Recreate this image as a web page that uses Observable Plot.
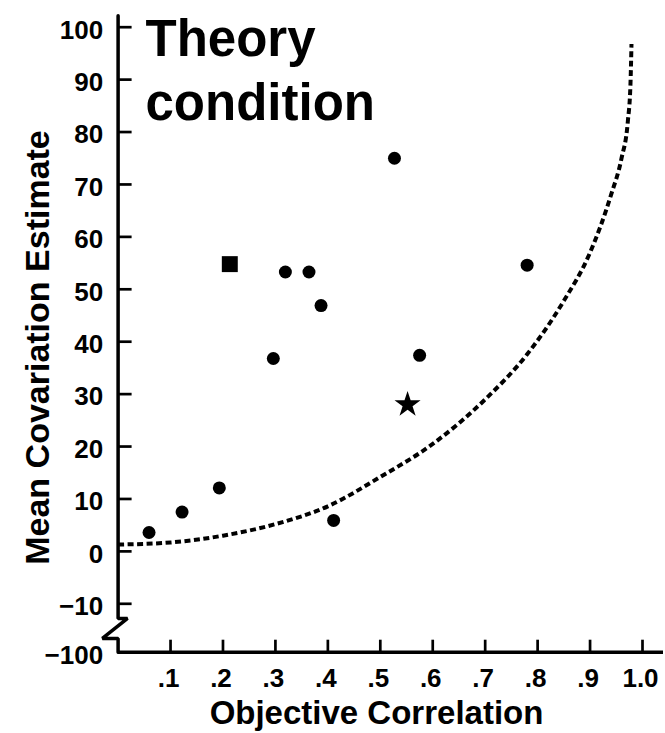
<!DOCTYPE html>
<html><head><meta charset="utf-8">
<script src="https://cdn.jsdelivr.net/npm/d3@7"></script>
<script src="https://cdn.jsdelivr.net/npm/@observablehq/plot@0.6"></script>
<style>body{margin:0;background:#fff} svg{display:block}</style>
</head><body><div id="chart"></div>
<script>
const titleLines = ["Theory", "condition"];
const xLabel = "Objective Correlation";
const yLabel = "Mean Covariation Estimate";
const xTicks = [0.1, 0.2, 0.3, 0.4, 0.5, 0.6, 0.7, 0.8, 0.9, 1.0];
const xTickLabels = [".1", ".2", ".3", ".4", ".5", ".6", ".7", ".8", ".9", "1.0"];
const yTicks = [-10, 0, 10, 20, 30, 40, 50, 60, 70, 80, 90, 100];
const yLabelValues = [-100, -10, 0, 10, 20, 30, 40, 50, 60, 70, 80, 90, 100];
const yTickLabels = ["\u2212100", "\u221210", "0", "10", "20", "30", "40", "50", "60", "70", "80", "90", "100"];
const circleX = [0.059, 0.122, 0.193, 0.296, 0.319, 0.364, 0.387, 0.411, 0.527, 0.575, 0.780];
const circleY = [3.6, 7.5, 12.1, 36.8, 53.3, 53.3, 46.9, 5.9, 75.0, 37.4, 54.6];
const squareX = [0.213];
const squareY = [54.8];
const starX = [0.552];
const starY = [28.0];
const curveX = [0.000, 0.100, 0.200, 0.300, 0.400, 0.500, 0.600, 0.700, 0.780, 0.850, 0.900, 0.940, 0.960, 0.972, 0.977, 0.979];
const curveY = [1.3, 1.7, 3.0, 5.2, 8.6, 14.2, 20.5, 29.0, 37.6, 47.8, 57.0, 68.0, 75.0, 82.0, 89.0, 96.8];
// y axis line with the scale-break zigzag
const axisX = [0, 0, 0.018, -0.030, 0, 0];
const axisY = [102.2, -37.3, -37.3, -74.5, -74.5, -100];

const xOpts = {domain: [0, 1], range: [117.6, 642], axis: null};
const yOpts = {type: "linear", domain: [-100, -10, 100], range: [651.7, 603.3, 26.7], axis: null};
const xs = Plot.scale({x: xOpts});
const ys = Plot.scale({y: yOpts});
const yTickEnd = xs.invert(xs.apply(0) + 14);
const xTickEnd = ys.invert(ys.apply(-100) - 12);
const axisXEnd = xs.invert(663);

const circles = circleX.map((x, i) => ({x, y: circleY[i]}));
const squares = squareX.map((x, i) => ({x, y: squareY[i]}));
const stars = starX.map((x, i) => ({x, y: starY[i]}));
const curve = curveX.map((x, i) => ({x, y: curveY[i]}));
const axisPath = axisX.map((x, i) => ({x, y: axisY[i]}));
const yLab = yLabelValues.map((v, i) => ({v, t: yTickLabels[i]}));
const xLab = xTicks.map((v, i) => ({v, t: xTickLabels[i]}));

const font = "'Liberation Sans', Arial, Helvetica, sans-serif";

const chart = Plot.plot({
  width: 665, height: 733,
  marginTop: 0, marginRight: 0, marginBottom: 0, marginLeft: 0,
  x: xOpts, y: yOpts,
  style: {fontFamily: font, background: "white", color: "black"},
  marks: [
    Plot.line(axisPath, {x: "x", y: "y", stroke: "black", strokeWidth: 3.5, strokeLinejoin: "miter", curve: "linear"}),
    Plot.ruleY([-100], {x1: 0, x2: axisXEnd, stroke: "black", strokeWidth: 3.5}),
    Plot.ruleY(yTicks, {y: d => d, x1: 0, x2: yTickEnd, stroke: "black", strokeWidth: 2.7}),
    Plot.ruleX(xTicks, {x: d => d, y1: -100, y2: xTickEnd, stroke: "black", strokeWidth: 2.7}),
    Plot.text(yLab, {x: 0, y: "v", text: "t", textAnchor: "end", lineAnchor: "middle", dx: -15, dy: 3, fontSize: 26, fontWeight: "bold", fill: "black"}),
    Plot.text(xLab, {x: "v", y: -100, text: "t", textAnchor: "middle", lineAnchor: "middle", dx: -2, dy: 26, fontSize: 26, fontWeight: "bold", fill: "black"}),
    Plot.line(curve, {x: "x", y: "y", stroke: "black", strokeWidth: 4, strokeDasharray: "6,3.5", curve: "monotone-x", className: "dashcurve"}),
    Plot.dot(circles, {x: "x", y: "y", r: 6.5, fill: "black", stroke: "none"}),
    Plot.dot(squares, {x: "x", y: "y", r: 9, symbol: "square", fill: "black", stroke: "none"}),
    Plot.dot(stars, {x: "x", y: "y", r: 8.2, symbol: "star", fill: "black", stroke: "none"}),
    Plot.text([titleLines.join("\n")], {frameAnchor: "top-left", text: d => d, textAnchor: "start", lineAnchor: "top", dx: 145, dy: 11, fontSize: 51, lineHeight: 1.24, fontWeight: "bold", fill: "black"}),
    Plot.text([yLabel], {frameAnchor: "left", text: d => d, rotate: -90, textAnchor: "middle", lineAnchor: "middle", dx: 38, dy: -19.5, fontSize: 34, fontWeight: "bold", fill: "black"}),
    Plot.text([xLabel], {frameAnchor: "bottom", text: d => d, textAnchor: "middle", lineAnchor: "middle", dx: 43.5, dy: -20.2, fontSize: 33, fontWeight: "bold", fill: "black"})
  ]
});
d3.select(chart).selectAll(".dashcurve, .dashcurve path")
  .attr("stroke-dasharray", "6,3.5")
  .attr("stroke-width", 4)
  .attr("stroke-linecap", "butt");
document.getElementById("chart").appendChild(chart);
</script>
</body></html>
